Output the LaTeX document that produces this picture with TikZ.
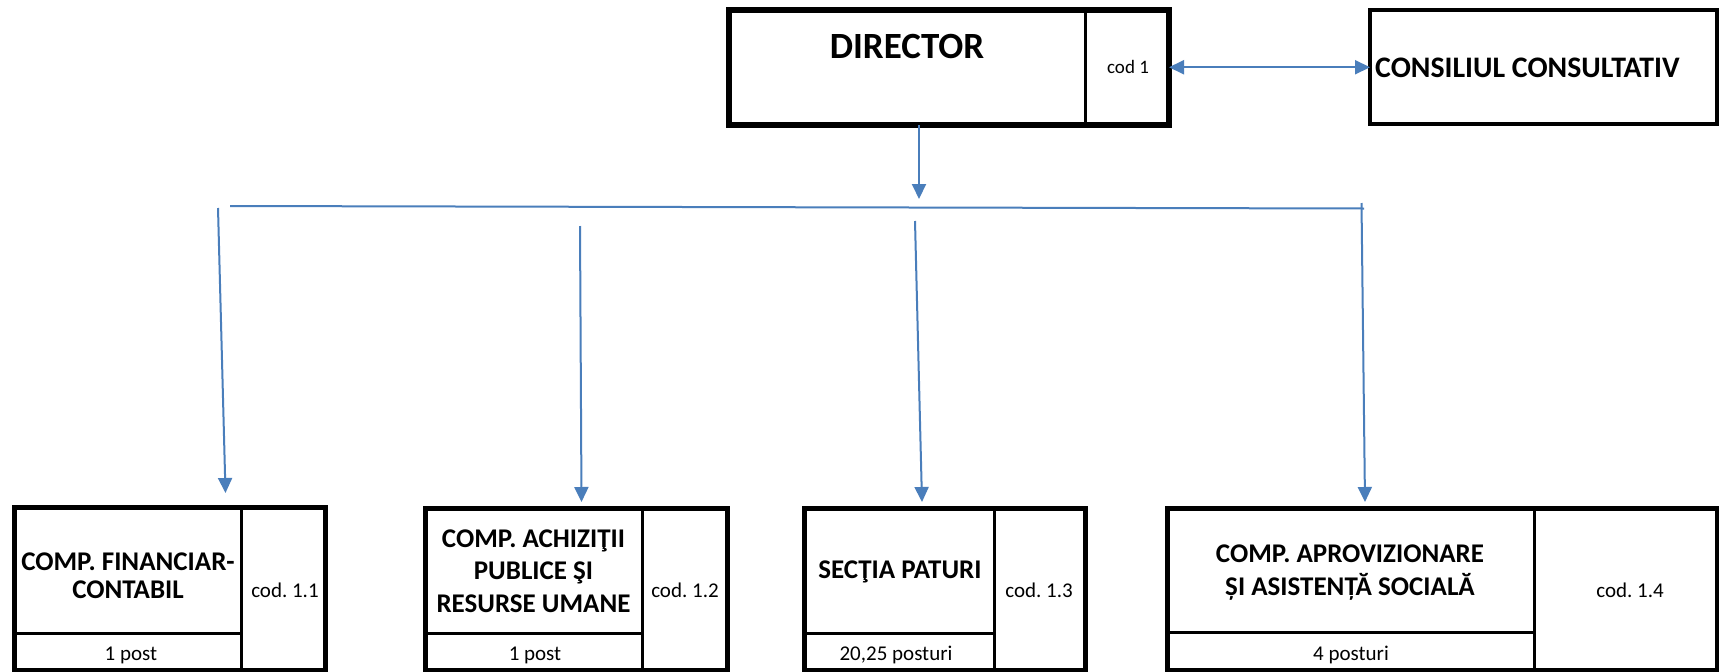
\documentclass[tikz,border=0pt]{standalone}
\usepackage{fontspec}
\setmainfont{Carlito}
\usetikzlibrary{arrows.meta}
\definecolor{lineblue}{RGB}{74,126,187}
\frenchspacing
\begin{document}
\begin{tikzpicture}[x=1pt,y=-1pt,
  box/.style={draw=black, line width=5pt, outer sep=0pt, inner sep=0pt, anchor=north west},
  divider/.style={draw=black, line width=3pt},
  conn/.style={draw=lineblue, line width=2pt},
  arr/.style={conn, -{Triangle[length=15pt,width=14pt]}},
  dblarr/.style={conn, {Triangle[length=15pt,width=14pt]}-{Triangle[length=15pt,width=14pt]}},
  unitname/.style={font=\fontsize{27}{33}\selectfont\bfseries, align=center, inner sep=0pt},
  smalltxt/.style={font=\fontsize{21}{24}\selectfont, inner sep=0pt, anchor=base}]
\useasboundingbox (0,0) rectangle (1719,672);
\fill[white] (0,0) rectangle (1719,672);

% ---------- top row ----------
\node[box, line width=6pt, minimum width=440.5pt, minimum height=115.5pt] (dir) at (728.5,9.5) {};
\draw[divider] (1085,9.5) -- (1085,125);
\node[font=\fontsize{37}{40}\selectfont\bfseries, anchor=base, inner sep=0pt] (dirtxt) at (907,58) {DIRECTOR};
\node[font=\fontsize{19}{22}\selectfont, anchor=base, inner sep=0pt] (dircod) at (1128,73) {cod 1};

\node[box, line width=4pt, minimum width=347pt, minimum height=114pt] (cons) at (1370,10) {};
\node[font=\fontsize{29.8}{33}\selectfont\bfseries, anchor=base west, inner sep=0pt] (constxt) at (1375,77) {CONSILIUL CONSULTATIV};

\draw[dblarr] (dir.east) -- (dir.east -| cons.west);

% ---------- distribution ----------
\coordinate (dtip) at (919,199);
\draw[arr] (dir.south -| dtip) -- (dtip);
\coordinate (busL) at (230,206);
\coordinate (busR) at (1364,208.5);
\draw[conn] (busL) -- (busR);

\coordinate (s1) at (218,208);    \coordinate (t1) at (225.5,493);
\coordinate (s2) at (580,226);    \coordinate (t2) at (581.5,502);
\coordinate (s3) at (915,221);    \coordinate (t3) at (922,502);
\coordinate (s4) at (1361.5,203); \coordinate (t4) at (1365,502);
\draw[arr] (s1) -- (t1);
\draw[arr] (s2) -- (t2);
\draw[arr] (s3) -- (t3);
\draw[arr] (s4) -- (t4);

% ---------- bottom row ----------
\node[box, minimum width=311pt, minimum height=162.5pt] (b1) at (14.5,507.5) {};
\draw[divider] (241,507.5) -- (241,670);
\draw[divider] (14.5,633.5) -- (241,633.5);
\node[unitname, font=\fontsize{27}{27.5}\selectfont\bfseries] (n1) at (128,575.5) {COMP. FINANCIAR-\\CONTABIL};
\node[smalltxt] (p1) at (131,660) {1 post};
\node[smalltxt] (c1) at (285,597) {cod. 1.1};

\node[box, minimum width=302pt, minimum height=161.5pt] (b2) at (425.5,508.5) {};
\draw[divider] (642,508.5) -- (642,670);
\draw[divider] (425.5,633.5) -- (642,633.5);
\node[unitname, font=\fontsize{27}{32.5}\selectfont\bfseries] (n2) at (533.5,571) {COMP. ACHIZIŢII\\PUBLICE ŞI\\RESURSE UMANE};
\node[smalltxt] (p2) at (535,660) {1 post};
\node[smalltxt] (c2) at (685,597) {cod. 1.2};

\node[box, minimum width=280.5pt, minimum height=162pt] (b3) at (804.5,508) {};
\draw[divider] (994,508) -- (994,670);
\draw[divider] (804.5,633.5) -- (994,633.5);
\node[unitname, anchor=base] (n3) at (900,578) {SECŢIA PATURI};
\node[smalltxt] (p3) at (896,660) {20,25 posturi};
\node[smalltxt] (c3) at (1039,597) {cod. 1.3};

\node[box, minimum width=549.5pt, minimum height=162pt] (b4) at (1167.5,508) {};
\draw[divider] (1534.5,508) -- (1534.5,670);
\draw[divider] (1167.5,632.5) -- (1534.5,632.5);
\node[unitname, font=\fontsize{27}{33}\selectfont\bfseries] (n4) at (1350,572.5) {COMP. APROVIZIONARE\\ȘI ASISTENȚĂ SOCIALĂ};
\node[smalltxt] (p4) at (1351,660) {4 posturi};
\node[smalltxt] (c4) at (1630,597) {cod. 1.4};
\end{tikzpicture}
\end{document}
